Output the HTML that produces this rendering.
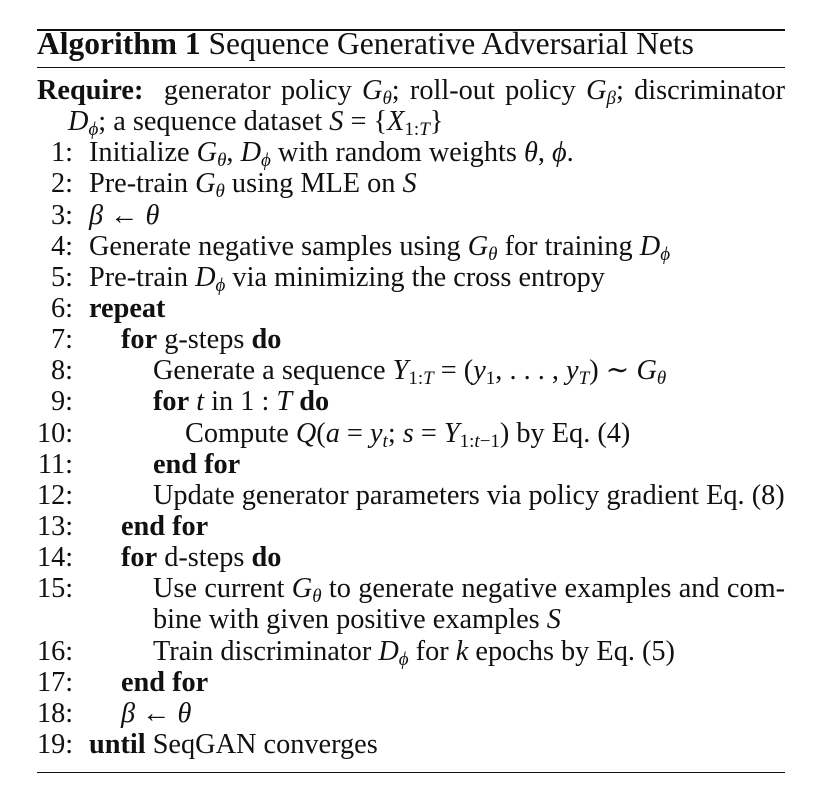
<!DOCTYPE html>
<html><head><meta charset="utf-8">
<style>
html,body{margin:0;padding:0;background:#fff;}
body{width:829px;height:795px;position:relative;overflow:hidden;font-family:"Liberation Serif","DejaVu Serif",serif;color:#111;}
.rule{position:absolute;left:37px;width:748px;background:#111;}
.ln{position:absolute;height:31px;line-height:31px;font-size:28.3px;white-space:nowrap;}
.num{position:absolute;left:37px;width:36px;text-align:right;font-size:28.3px;line-height:31px;height:31px;}
i{font-style:italic;}
sub{font-size:19px;vertical-align:-5px;line-height:0;}
.j{text-align:justify;text-align-last:justify;white-space:normal;}
</style></head><body>
<div class="rule" style="top:29px;height:2px"></div>
<div class="ln" style="left:37px;top:28px;height:32px;line-height:32px;font-size:31.5px"><b>Algorithm 1</b> Sequence Generative Adversarial Nets</div>
<div class="rule" style="top:67px;height:1px"></div>

<div class="ln j" style="left:37px;width:748px;top:75px"><b>Require:</b>&nbsp; generator policy <i>G</i><sub><i>θ</i></sub>; roll-out policy <i>G</i><sub><i>β</i></sub>; discriminator</div>
<div class="ln" style="left:68px;top:106px"><i>D</i><sub><i>ϕ</i></sub>; a sequence dataset <i>S</i> = {<i>X</i><sub>1:<i>T</i></sub>}</div>

<div id="lines"></div>
<div class="rule" style="top:772px;height:1px"></div>

<script>
const L=[
 [1,0,'Initialize <i>G</i><sub><i>θ</i></sub>, <i>D</i><sub><i>ϕ</i></sub> with random weights <i>θ</i>, <i>ϕ</i>.'],
 [2,0,'Pre-train <i>G</i><sub><i>θ</i></sub> using MLE on <i>S</i>'],
 [3,0,'<i>β</i> ← <i>θ</i>'],
 [4,0,'Generate negative samples using <i>G</i><sub><i>θ</i></sub> for training <i>D</i><sub><i>ϕ</i></sub>'],
 [5,0,'Pre-train <i>D</i><sub><i>ϕ</i></sub> via minimizing the cross entropy'],
 [6,0,'<b>repeat</b>'],
 [7,1,'<b>for</b> g-steps <b>do</b>'],
 [8,2,'Generate a sequence <i>Y</i><sub>1:<i>T</i></sub> = (<i>y</i><sub>1</sub>, . . . , <i>y</i><sub><i>T</i></sub>) ∼ <i>G</i><sub><i>θ</i></sub>'],
 [9,2,'<b>for</b> <i>t</i> in 1 : <i>T</i> <b>do</b>'],
 [10,3,'Compute <i>Q</i>(<i>a</i> = <i>y</i><sub><i>t</i></sub>; <i>s</i> = <i>Y</i><sub>1:<i>t</i>−1</sub>) by Eq. (4)'],
 [11,2,'<b>end for</b>'],
 [12,2,'Update generator parameters via policy gradient Eq. (8)'],
 [13,1,'<b>end for</b>'],
 [14,1,'<b>for</b> d-steps <b>do</b>'],
 [15,2,'Use current <i>G</i><sub><i>θ</i></sub> to generate negative examples and com-','j'],
 [null,2,'bine with given positive examples <i>S</i>'],
 [16,2,'Train discriminator <i>D</i><sub><i>ϕ</i></sub> for <i>k</i> epochs by Eq. (5)'],
 [17,1,'<b>end for</b>'],
 [18,1,'<i>β</i> ← <i>θ</i>'],
 [19,0,'<b>until</b> SeqGAN converges']
];
const c=document.getElementById('lines');
L.forEach((r,k)=>{
  const top=75+31.14*(k+2);
  if(r[0]!==null){
    const n=document.createElement('div');n.className='num';n.style.top=top+'px';n.textContent=r[0]+':';
    
    
    c.appendChild(n);
  }
  const d=document.createElement('div');d.className='ln'+(r[3]?' j':'');
  const left=89+32*r[1];d.style.left=left+'px';d.style.top=top+'px';
  if(r[3])d.style.width=(785-left)+'px';
  d.innerHTML=r[2];
  
  
  c.appendChild(d);
});
</script>
</body></html>
